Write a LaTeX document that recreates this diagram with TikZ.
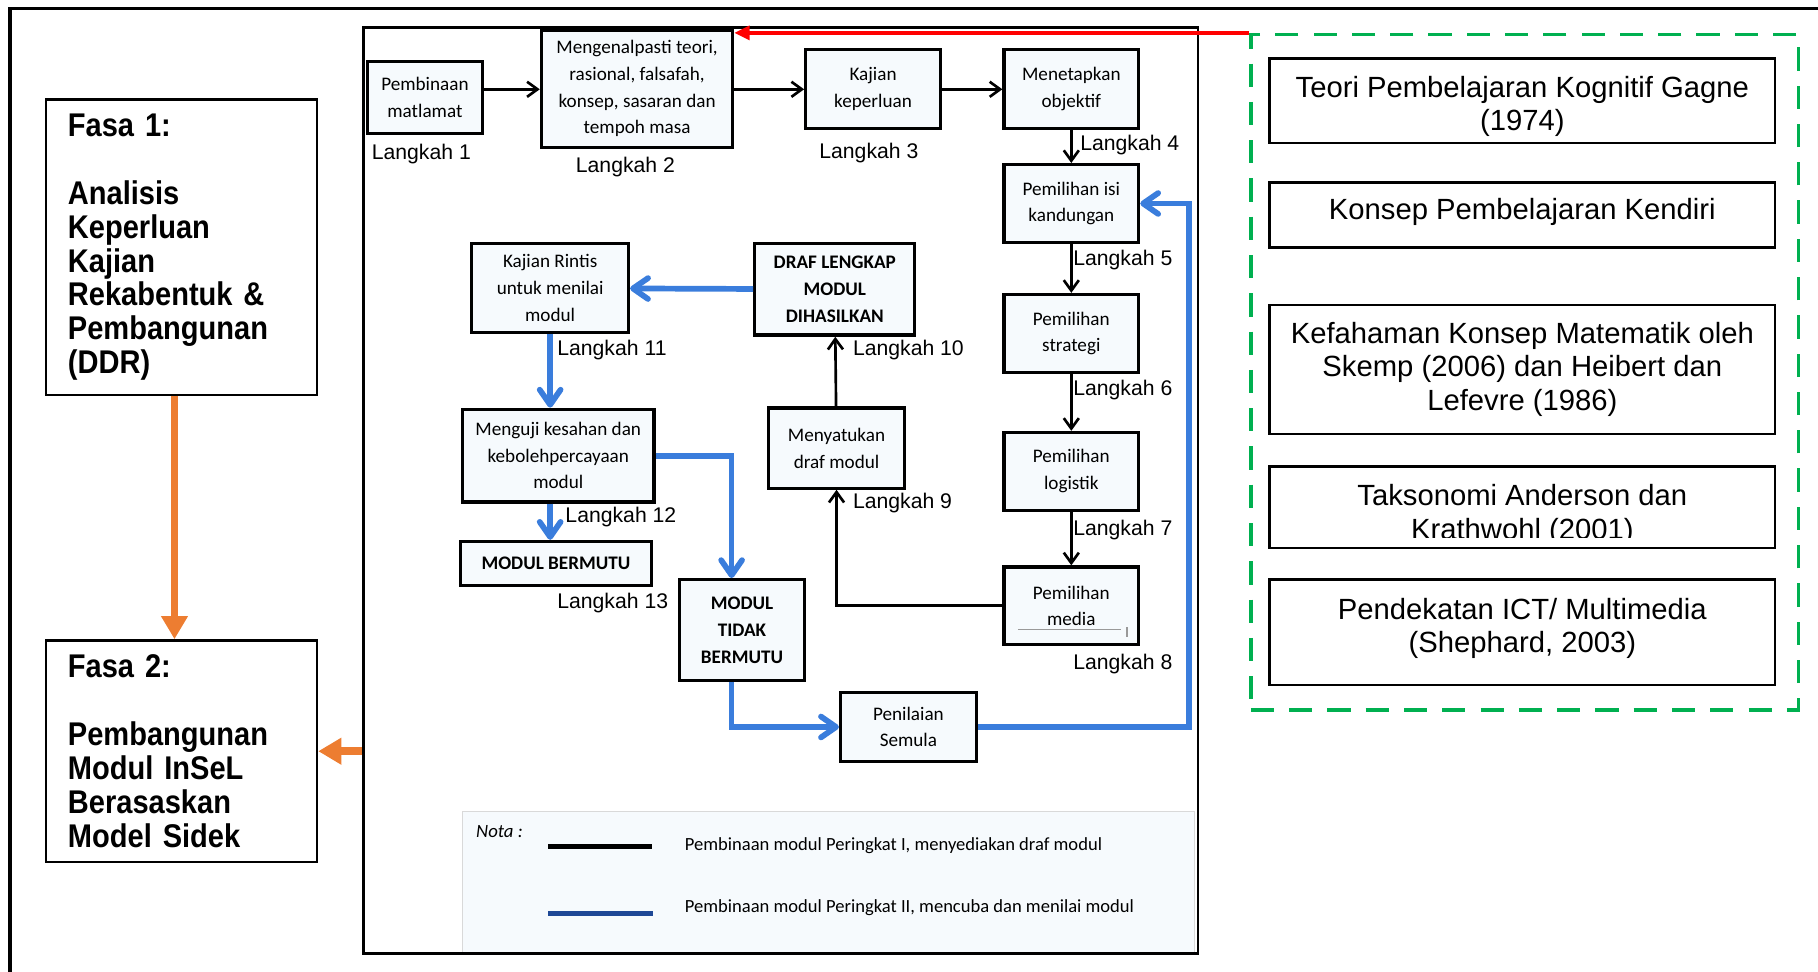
\documentclass[tikz,border=0pt]{standalone}
\usepackage{fontspec}
\setmainfont{Carlito}
\newfontfamily\arialfont{Liberation Sans}
\newfontfamily\fasafont[FakeStretch=0.885]{Liberation Sans}
\usetikzlibrary{arrows.meta}

\definecolor{fasaorange}{RGB}{237,125,49}
\definecolor{teorired}{RGB}{255,0,0}
\definecolor{teorigreen}{RGB}{0,176,80}
\definecolor{stageblue}{RGB}{58,125,220}
\definecolor{notablue}{RGB}{30,72,150}
\definecolor{boxbg}{RGB}{246,250,253}

\begin{document}
\begin{tikzpicture}[x=0.01cm,y=-0.01cm,
   box/.style={draw, line width=0.8pt, fill=boxbg, align=center, inner sep=0pt,
      font=\fontsize{4.7}{6.55}\selectfont},
   boldbox/.style={box, font=\fontsize{4.7}{6.55}\selectfont\bfseries},
   langkah/.style={anchor=west, inner sep=0pt, font=\arialfont\fontsize{5.2}{6}\selectfont},
   fasa/.style={draw, line width=0.6pt, align=left, inner xsep=0.19cm, inner ysep=0pt,
      text width=1.957cm, font=\fasafont\bfseries\fontsize{8.05}{8.3}\selectfont},
   teori/.style={draw, line width=0.6pt, minimum width=4.36cm, inner sep=0pt},
   teoritext/.style={align=center, inner sep=0pt, font=\arialfont\fontsize{7.17}{8.17}\selectfont},
   blk/.style={line width=0.65pt, -{Straight Barb[length=0.9mm,width=1.3mm]}},
   blu/.style={stageblue, line width=1.4pt, -{Straight Barb[length=1.3mm,width=1.8mm,round]}},
   orangearrow/.style={fasaorange, line width=1.9pt, -{Triangle[length=2mm,width=2.2mm]}},
   notaline/.style={line width=1.2pt}
]
   \useasboundingbox (0,0) rectangle (1568,838);

   % outer frame (only top and left are visible)
   \draw[line width=0.85pt] (8.6,838) -- (8.6,7.5) -- (1568,7.5);

   % phases
   \node[fasa, minimum height=2.55cm] (fasa1) at (156.5,213.2)
      {Fasa 1:\\[8.3pt]Analisis\\Keperluan\\Kajian\\Rekabentuk \&\\Pembangunan\\(DDR)};
   \node[fasa, minimum height=1.91cm] (fasa2) at (156.5,647.9)
      {Fasa 2:\\[8.3pt]Pembangunan\\Modul InSeL\\Berasaskan\\Model Sidek};
   \draw[orangearrow] ([xshift=-0.06cm]fasa1.south) -- ([xshift=-0.06cm]fasa2.north);

   % Model Sidek figure
   \node[draw=black!15, fill=boxbg, minimum width=6.31cm, minimum height=1.22cm] (notabox) at (714.5,761) {};
   \node[draw, line width=0.7pt, minimum width=7.19cm, minimum height=7.98cm] (fig) at (673.5,423) {};
   \draw[orangearrow] (fig.west |- fasa2.east) -- (fasa2.east);

   \node[box, minimum width=0.99cm, minimum height=0.62cm] (matlamat) at (366.5,84) {Pembinaan\\matlamat};
   \node[box, minimum width=1.65cm, minimum height=1.01cm] (teori) at (549.5,76.5)
      {Mengenalpasti teori,\\rasional, falsafah,\\konsep, sasaran dan\\tempoh masa};
   \node[box, minimum width=1.16cm, minimum height=0.68cm] (keperluan) at (753,77) {Kajian\\keperluan};
   \node[box, minimum width=1.16cm, minimum height=0.68cm] (objektif) at (924,77) {Menetapkan\\objektif};
   \node[box, minimum width=1.16cm, minimum height=0.67cm] (isi) at (924,175.5) {Pemilihan isi\\kandungan};
   \node[box, minimum width=1.16cm, minimum height=0.67cm] (strategi) at (924,287.5) {Pemilihan\\strategi};
   \node[box, minimum width=1.16cm, minimum height=0.67cm] (logistik) at (924,406.5) {Pemilihan\\logistik};
   \node[box, minimum width=1.16cm, minimum height=0.67cm] (media) at (924,522.5) {Pemilihan\\media};
   \node[box, minimum width=1.17cm, minimum height=0.69cm] (satukan) at (721.5,386.5) {Menyatukan\\draf modul};
   \node[boldbox, minimum width=1.38cm, minimum height=0.79cm] (draf) at (720,249.5) {DRAF LENGKAP\\MODUL\\DIHASILKAN};
   \node[box, minimum width=1.35cm, minimum height=0.77cm] (rintis) at (474.5,248.5) {Kajian Rintis\\untuk menilai\\modul};
   \node[box, minimum width=1.65cm, minimum height=0.80cm] (menguji) at (481.5,393)
      {Menguji kesahan dan\\kebolehpercayaan\\modul};
   \node[boldbox, minimum width=1.65cm, minimum height=0.38cm] (bermutu) at (479.5,486) {MODUL BERMUTU};
   \node[boldbox, minimum width=1.08cm, minimum height=0.87cm] (tidak) at (640,543.5) {MODUL\\TIDAK\\BERMUTU};
   \node[box, minimum width=1.17cm, minimum height=0.60cm] (semula) at (783.5,627) {Penilaian\\Semula};
   % scan mark inside media box
   \draw[black!40, line width=0.3pt] (878,543) -- (967,543) (972,541) -- (972,549);

   \node[langkah] (lk1) at (320,133) {Langkah 1};
   \node[langkah] (lk2) at (496,144) {Langkah 2};
   \node[langkah] (lk3) at (706,132) {Langkah 3};
   \node[langkah] (lk4) at (931,125) {Langkah 4};
   \node[langkah] (lk5) at (925,224) {Langkah 5};
   \node[langkah] (lk6) at (925,336) {Langkah 6};
   \node[langkah] (lk7) at (925,457) {Langkah 7};
   \node[langkah] (lk8) at (925,573) {Langkah 8};
   \node[langkah] (lk9) at (735,434) {Langkah 9};
   \node[langkah] (lk10) at (735,302) {Langkah 10};
   \node[langkah] (lk11) at (480,302) {Langkah 11};
   \node[langkah] (lk12) at (487,446) {Langkah 12};
   \node[langkah] (lk13) at (480,520) {Langkah 13};

   % Peringkat I
   \draw[blk] (matlamat.east |- keperluan) -- (teori.west |- keperluan);
   \draw[blk] (teori.east |- keperluan) -- (keperluan);
   \draw[blk] (keperluan) -- (objektif);
   \draw[blk] (objektif) -- (isi);
   \draw[blk] (isi) -- (strategi);
   \draw[blk] (strategi) -- (logistik);
   \draw[blk] (logistik) -- (media);
   \draw[blk] (media.west) -| (satukan.south);
   \draw[blk] (satukan) -- (draf);

   % Peringkat II
   \draw[blu] (draf) -- (rintis);
   \draw[blu] (rintis.south) -- (rintis.south |- menguji.north);
   \draw[blu] (rintis.south |- menguji.south) -- (rintis.south |- bermutu.north);
   \draw[blu] (menguji.east) -| ([xshift=-0.09cm]tidak.north);
   \draw[blu] ([xshift=-0.09cm]tidak.south) |- (semula.west);
   \draw[blu] (semula.east) -| ([xshift=0.42cm]isi.east) -- (isi.east);

   % legend
   \node[anchor=west, inner sep=0pt, font=\fontsize{4.6}{5.5}\selectfont\itshape] (nota) at (410,717) {Nota :};
   \coordinate (nota1a) at (473,730);
   \coordinate (nota1b) at (562,730);
   \coordinate (nota2a) at (473,788);
   \coordinate (nota2b) at (563,788);
   \draw[notaline] (nota1a) -- (nota1b);
   \draw[notaline, notablue] (nota2a) -- (nota2b);
   \node[anchor=west, inner sep=0pt, font=\fontsize{4.55}{5.5}\selectfont] (nota1) at (590,729)
      {Pembinaan modul Peringkat I, menyediakan draf modul};
   \node[anchor=west, inner sep=0pt, font=\fontsize{4.55}{5.5}\selectfont] (nota2) at (590,783)
      {Pembinaan modul Peringkat II, mencuba dan menilai modul};

   % underlying theories
   \node[draw=teorigreen, line width=0.85pt, dash pattern=on 0.2cm off 0.13cm,
      minimum width=4.72cm, minimum height=5.82cm] (green) at (1315,321) {};
   \draw[teorired, line width=0.8pt, -{Triangle[length=1.3mm,width=1.2mm]}]
      (green.north west) -- (teori.east |- green.north west);

   \node[teori, minimum height=0.73cm] (gagne) at (1313,87) {};
   \node[teoritext] (gagnetext) at (1313,92) {Teori Pembelajaran Kognitif Gagne\\(1974)};
   \node[teori, minimum height=0.56cm] (kendiri) at (1313,185.5) {};
   \node[teoritext] (kendiritext) at (1313,183) {Konsep Pembelajaran Kendiri};
   \node[teori, minimum height=1.11cm] (skemp) at (1313,318.7) {};
   \node[teoritext] (skemptext) at (1313,318.5)
      {Kefahaman Konsep Matematik oleh\\Skemp (2006) dan Heibert dan\\Lefevre (1986)};
   \node[teori, minimum height=0.70cm] (anderson) at (1313,437.5) {};
   \begin{scope}
     \clip (anderson.north west) rectangle ([yshift=0.10cm]anderson.south east);
     \node[teoritext] (andersontext) at (1313,444) {Taksonomi Anderson dan\\Krathwohl (2001)};
   \end{scope}
   \node[teori, minimum height=0.91cm] (shephard) at (1313,545.4) {};
   \node[teoritext] (shephardtext) at (1313,542) {Pendekatan ICT/ Multimedia\\(Shephard, 2003)};
\end{tikzpicture}
\end{document}
